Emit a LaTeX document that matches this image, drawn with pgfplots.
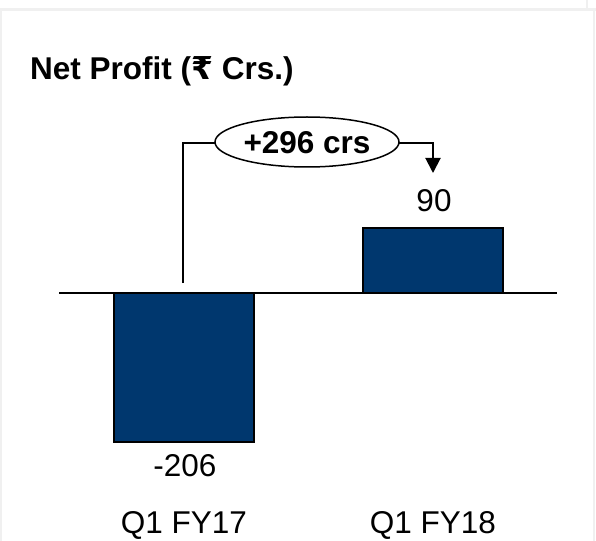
\documentclass[border=0pt]{standalone}
\usepackage{pgfplots}
\pgfplotsset{compat=1.18}
\usetikzlibrary{arrows.meta}
\usepackage{fontspec}
\setmainfont{Liberation Sans}
\newfontfamily\rupeefont{DejaVu Sans}[BoldFont={DejaVu Sans Bold}]
\definecolor{barblue}{RGB}{0,55,110}
\definecolor{framegray}{RGB}{240,240,240}
\begin{document}
\begin{tikzpicture}
\begin{scope}[x=1bp,y=-1bp]
\useasboundingbox (0,0) rectangle (596,541);
\fill[white] (0,0) rectangle (596,541);
\draw[framegray,line width=2.5bp] (0,9.5) -- (596,9.5);
\draw[framegray,line width=2.5bp] (1.2,9.5) -- (1.2,541);
\draw[framegray,line width=2.5bp] (594,9.5) -- (594,541);
\draw[framegray,line width=1.5bp] (587,0) -- (587,9.5);
\end{scope}
\begin{axis}[at={(0,0)},anchor=north west,scale only axis,
  width=596bp,height=541bp,xmin=0,xmax=596,ymin=-343.49,ymax=405.82,
  hide axis,clip=false]
\addplot[ybar,bar width=140,bar shift=0pt,fill=barblue,draw=black,line width=1.8bp]
  coordinates {(184,-206) (433,90)};
\draw[black,line width=2bp] (axis cs:59,0) -- (axis cs:557,0);
\end{axis}
\begin{scope}[x=1bp,y=-1bp,every node/.style={inner sep=0pt,font=\fontsize{31.5bp}{38bp}\selectfont}]
\node[anchor=base west,font=\fontsize{31.5bp}{38bp}\selectfont\bfseries] at (30,80) {Net Profit ({\rupeefont\bfseries ₹} Crs.)};
\draw[line width=2bp] (183,283) -- (183,143) -- (215,143);
\draw[line width=2bp,-{Triangle[width=15bp,length=15bp]}] (399,143) -- (433,143) -- (433,173);
\draw[line width=1.5bp,fill=white] (307,142) ellipse [x radius=92,y radius=25];
\node[anchor=base,font=\fontsize{31.5bp}{38bp}\selectfont\bfseries] at (307,153.3) {+296 crs};
\node[anchor=base] at (185,476.7) {-206};
\node[anchor=base] at (434,211.7) {90};
\node[anchor=base] at (184,533.4) {Q1 FY17};
\node[anchor=base] at (433,533.4) {Q1 FY18};
\end{scope}
\end{tikzpicture}
\end{document}
